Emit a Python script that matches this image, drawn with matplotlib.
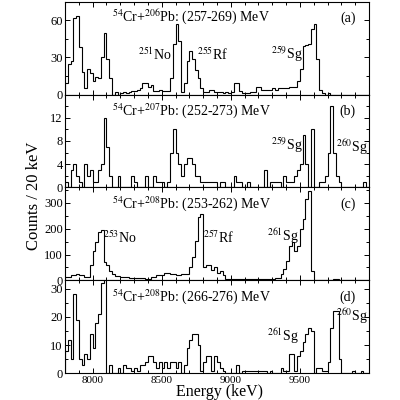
import numpy as np
import matplotlib
matplotlib.use("Agg")
import matplotlib.pyplot as plt
from matplotlib.ticker import FixedLocator, MultipleLocator

# 20 keV bins from 7800 to 10000 keV
e_min, e_max, bin_width = 7800, 10000, 20
edges = np.arange(e_min, e_max + bin_width, bin_width)

counts_a = [9, 25, 27, 62, 63, 38, 18, 5, 21, 17, 11, 14, 13, 30, 50, 29, 13,
            0, 2, 0, 1, 2, 1, 2, 3, 3, 4, 5, 9, 9, 6, 8, 3, 3, 4, 3, 3, 3,
            13, 41, 57, 43, 2, 9, 27, 35, 29, 20, 13, 5,
            2, 2, 4, 4, 2, 2, 2, 1, 2, 1, 2, 9, 9, 3, 1, 1, 1, 2, 2, 6, 6,
            4, 4, 4, 4, 5, 4, 5, 5, 5, 5, 6, 6,
            6, 11, 21, 39, 40, 41, 53, 57, 29, 4, 1, 0, 1,
            0, 0, 0, 0, 0, 0, 0, 0, 0, 0, 0, 0, 0, 0]

counts_b = [1, 0, 3, 4, 2, 1, 0, 4, 2, 3, 1, 1, 3, 4, 12, 7, 2,
            0, 0, 2, 0, 0, 0, 0, 2, 1, 0, 0, 0, 2, 0, 0, 2, 1, 1, 1, 0, 1,
            6, 10, 6, 4, 2, 4, 5, 5, 4, 2, 2, 1,
            1, 1, 1, 1, 1, 0, 1, 1, 0, 0, 0, 2, 1, 1, 0, 0, 1, 0, 0, 0, 0, 0,
            3, 0, 1, 1, 1, 1, 0, 2, 1, 1, 1,
            2, 3, 4, 9, 4, 0, 10, 0, 0, 1, 1, 2, 6, 14, 6, 2, 1,
            0, 0, 0, 0, 0, 0, 0, 0, 1, 0]

counts_c = [13, 13, 19, 19, 26, 19, 19, 13, 13,
            58, 115, 147, 186, 195, 73, 58, 38, 26, 17, 17, 12, 12, 12,
            9, 9, 9, 9, 9, 9, 6, 6, 13, 13, 19, 19, 19, 30, 30, 26, 26, 19, 19, 26, 26,
            26, 51, 90, 154, 244, 256, 51, 58, 58, 42, 51, 30, 38, 19, 6, 6, 6,
            4, 4, 4, 4, 4, 4, 4, 4, 4, 4, 4, 4, 4, 4, 4,
            9, 9, 26, 45, 77, 135, 150, 115, 135, 199, 237, 314, 346, 38, 3, 3,
            3, 3, 3, 3, 3, 6, 6, 3, 3, 3, 3, 3, 3, 3, 3, 3, 3, 3]

counts_d = [8, 12, 5, 28, 19, 5, 3, 7, 5, 14, 9, 18, 21, 32, 40, 0, 3,
            0, 0, 2, 0, 3, 2, 2, 1, 2, 1, 3, 3, 4, 6, 6, 4, 2, 4, 2, 4, 2,
            4, 4, 2, 4, 0, 3, 9, 12, 14, 14, 10, 1,
            4, 6, 6, 1, 6, 4, 2, 1, 0, 0, 0, 0, 3, 0, 1, 1, 1, 1, 1, 1, 1, 1, 1,
            0, 1, 0, 0, 0, 2, 1, 1, 7, 7,
            1, 6, 8, 11, 14, 16, 15, 0, 2, 2, 1, 1, 4, 16, 22, 22, 5,
            0, 0, 0, 0, 1, 0, 0, 1, 0, 0]

titles = [r"$^{54}$Cr+$^{206}$Pb: (257-269) MeV",
          r"$^{54}$Cr+$^{207}$Pb: (252-273) MeV",
          r"$^{54}$Cr+$^{208}$Pb: (253-262) MeV",
          r"$^{54}$Cr+$^{208}$Pb: (266-276) MeV"]
panel_tags = ["(a)", "(b)", "(c)", "(d)"]
y_max = [75, 16, 360, 33]
y_major = [[0, 30, 60], [0, 4, 8, 12], [0, 100, 200, 300], [0, 10, 20, 30]]
y_minor = [15, 2, 50, 5]
x_major = [8000, 8500, 9000, 9500]

# isotope labels: (text, x axes-frac, y axes-frac)
isotopes = [
    [(r"$^{251}$No", 0.296, 0.43), (r"$^{255}$Rf", 0.484, 0.43), (r"$^{259}$Sg", 0.730, 0.43)],
    [(r"$^{259}$Sg", 0.730, 0.45), (r"$^{260}$Sg", 0.944, 0.43)],
    [(r"$^{253}$No", 0.181, 0.46), (r"$^{257}$Rf", 0.507, 0.46), (r"$^{261}$Sg", 0.717, 0.48)],
    [(r"$^{261}$Sg", 0.717, 0.40), (r"$^{260}$Sg", 0.944, 0.62)],
]

plt.rcParams["font.family"] = "Liberation Serif"
plt.rcParams["mathtext.fontset"] = "stix"

fig, axes = plt.subplots(4, 1, sharex=True, figsize=(4, 4), dpi=100,
                         gridspec_kw=dict(hspace=0))
fig.subplots_adjust(left=0.1625, right=0.9225, top=0.996, bottom=0.0667)

all_counts = [counts_a, counts_b, counts_c, counts_d]
for i, ax in enumerate(axes):
    ax.stairs(all_counts[i], edges, color="black", lw=0.8)
    ax.set_ylim(0, y_max[i])
    ax.yaxis.set_major_locator(FixedLocator(y_major[i]))
    ax.yaxis.set_minor_locator(MultipleLocator(y_minor[i]))
    ax.tick_params(which="both", direction="in", top=True, right=True, width=0.7)
    ax.tick_params(which="major", length=3.5, labelsize=9, pad=1.5)
    ax.tick_params(which="minor", length=2)
    ax.tick_params(axis="x", labelsize=8, pad=2)
    for s in ax.spines.values():
        s.set_linewidth(0.8)
    ax.text(0.415, 0.83, titles[i], transform=ax.transAxes, ha="center",
            va="center", fontsize=10)
    ax.text(0.93, 0.82, panel_tags[i], transform=ax.transAxes, ha="center",
            va="center", fontsize=10)
    for lab, fx, fy in isotopes[i]:
        ax.text(fx, fy, lab, transform=ax.transAxes, ha="center", va="center",
                fontsize=10)

axes[-1].set_xlim(e_min, e_max)
axes[-1].xaxis.set_major_locator(FixedLocator(x_major))
axes[-1].xaxis.set_minor_locator(MultipleLocator(100))
fig.text(0.5475, 0.02, "Energy (keV)", ha="center", va="center", fontsize=11.5)
fig.text(0.085, 0.51, "Counts / 20 keV", rotation=90, ha="center",
         va="center", fontsize=12)

fig.savefig("out.png", dpi=100)
